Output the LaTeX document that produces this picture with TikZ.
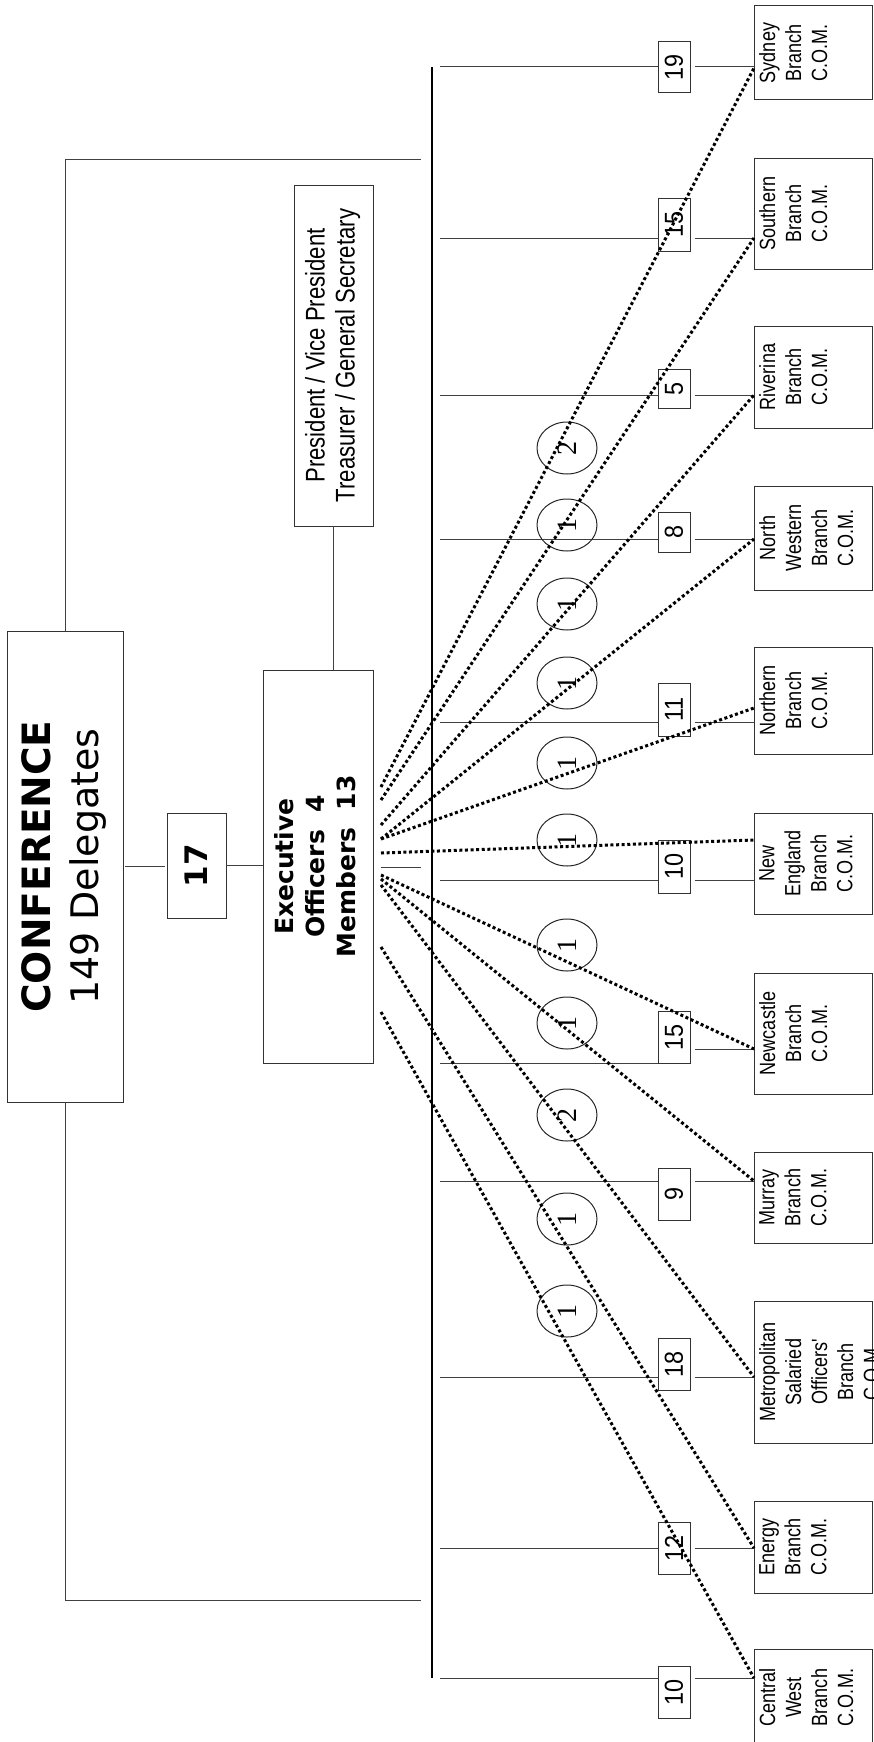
\documentclass[tikz,border=0pt]{standalone}
\usepackage{fontspec}
\usepackage{graphicx}
\setmainfont{Liberation Sans}
\newfontfamily\narf[FakeStretch=0.82]{Liberation Sans}
\newfontfamily\numf[FakeStretch=0.9]{Liberation Sans}
\newfontfamily\dvf{DejaVu Sans}
\newfontfamily\serf{Liberation Serif}
\usetikzlibrary{calc,shapes.geometric}
\tikzset{
  box/.style={draw=black!80, line width=1pt, inner sep=0pt, outer sep=0pt, anchor=north west},
  ln/.style={draw=black!75, line width=1pt},
  dotl/.style={draw=black, line width=3pt, dash pattern=on 3pt off 2.6pt},
  brtxt/.style={rotate=90, anchor=north, align=center, inner sep=0pt, font=\narf\fontsize{22}{26}\selectfont},
  numbox/.style={draw=black!80, line width=1pt, inner sep=0pt, minimum width=32pt, font=\numf\fontsize{26}{30}\selectfont},
  circ/.style={draw=black!85, line width=1pt, ellipse, minimum width=60pt, minimum height=52pt, inner sep=0pt, font=\serf\fontsize{28}{30}\selectfont},
}
\begin{document}
\begin{tikzpicture}[x=1pt,y=-1pt]
\path[use as bounding box, clip] (0,0) rectangle (873,1742);

% ---- main boxes ----
\node[box, minimum width=116pt, minimum height=471pt] (conf) at (7,631)
  {\rotatebox{90}{\dvf\fontsize{38}{48}\selectfont\begin{tabular}{@{}c@{}}{\fontsize{39}{48}\selectfont\bfseries CONFERENCE}\\149 Delegates\end{tabular}}};
\node[box, minimum width=59pt, minimum height=105pt] (n17) at (167,813)
  {\rotatebox{90}{\dvf\bfseries\fontsize{31}{36}\selectfont 17}};
\node[box, minimum width=110pt, minimum height=393pt] (exec) at (263,670)
  {\rotatebox{90}{\dvf\bfseries\fontsize{25}{31}\selectfont\begin{tabular}{@{}c@{}}Executive\\Officers\ \ 4\\Members\ \ 13\end{tabular}}};
\node[box, minimum width=79pt, minimum height=341pt] (pres) at (294,185)
  {\rotatebox{90}{\narf\fontsize{27}{30}\selectfont\begin{tabular}{@{}c@{}}President / Vice President\\Treasurer / General Secretary\end{tabular}}};

% ---- structure lines ----
\coordinate (brt) at (421,159);
\coordinate (brb) at (421,1600);
\coordinate (bust) at (432,67);
\coordinate (busb) at (432,1678);
\coordinate (exs) at (421,867);
\draw[ln] (conf.north) |- (brt);
\draw[ln] (conf.south) |- (brb);
\draw[draw=black, line width=1.3pt] (bust) -- (busb);
\draw[ln, shorten <=2pt, shorten >=2pt] (conf.east) -- (conf.east -| n17.west);
\draw[ln] (n17.east) -- (n17.east -| exec.west);
\draw[ln] (pres.south) -- (pres.south |- exec.north);
\draw[ln, shorten <=8pt] (exec.east |- exs) -- (exs);

% ---- branch boxes ----
\node[box, minimum width=118pt, minimum height=94pt]  (syd) at (754,6) {};
\node[box, minimum width=118pt, minimum height=111pt] (sou) at (754,158) {};
\node[box, minimum width=118pt, minimum height=102pt] (riv) at (754,326) {};
\node[box, minimum width=118pt, minimum height=104pt] (nw)  at (754,486) {};
\node[box, minimum width=118pt, minimum height=107pt] (nor) at (754,647) {};
\node[box, minimum width=118pt, minimum height=101pt] (ne)  at (754,813) {};
\node[box, minimum width=118pt, minimum height=121pt] (new) at (754,973) {};
\node[box, minimum width=118pt, minimum height=91pt]  (mur) at (754,1152) {};
\node[box, minimum width=118pt, minimum height=142pt] (met) at (754,1301) {};
\node[box, minimum width=118pt, minimum height=92pt]  (ene) at (754,1501) {};
\node[box, minimum width=118pt, minimum height=97pt]  (cw)  at (754,1649) {};

\node[brtxt] (syd-t) at ($(syd.west)+(5,0)$) {Sydney\\Branch\\C.O.M.};
\node[brtxt] (sou-t) at ($(sou.west)+(5,0)$) {Southern\\Branch\\C.O.M.};
\node[brtxt] (riv-t) at ($(riv.west)+(5,0)$) {Riverina\\Branch\\C.O.M.};
\node[brtxt] (nw-t)  at ($(nw.west)+(5,0)$)  {North\\Western\\Branch\\C.O.M.};
\node[brtxt] (nor-t) at ($(nor.west)+(5,0)$) {Northern\\Branch\\C.O.M.};
\node[brtxt] (ne-t)  at ($(ne.west)+(5,0)$)  {New\\England\\Branch\\C.O.M.};
\node[brtxt] (new-t) at ($(new.west)+(5,0)$) {Newcastle\\Branch\\C.O.M.};
\node[brtxt] (mur-t) at ($(mur.west)+(5,0)$) {Murray\\Branch\\C.O.M.};
\node[brtxt] (met-t) at ($(met.west)+(5,0)$) {Metropolitan\\Salaried\\Officers'\\Branch\\C.O.M.};
\node[brtxt] (ene-t) at ($(ene.west)+(5,0)$) {Energy\\Branch\\C.O.M.};
\node[brtxt] (cw-t)  at ($(cw.west)+(5,0)$)  {Central\\West\\Branch\\C.O.M.};

% ---- number boxes ----
\node[numbox, minimum height=51pt] (syd-n) at (674,67.5)   {\rotatebox{90}{19}};
\node[numbox, minimum height=53pt] (sou-n) at (674,224.5)  {\rotatebox{90}{15}};
\node[numbox, minimum height=39pt] (riv-n) at (674,388.5)  {\rotatebox{90}{5}};
\node[numbox, minimum height=40pt] (nw-n)  at (674,532)    {\rotatebox{90}{8}};
\node[numbox, minimum height=53pt] (nor-n) at (674,709.5)  {\rotatebox{90}{11}};
\node[numbox, minimum height=53pt] (ne-n)  at (674,866.5)  {\rotatebox{90}{10}};
\node[numbox, minimum height=52pt] (new-n) at (674,1037)   {\rotatebox{90}{15}};
\node[numbox, minimum height=52pt] (mur-n) at (674,1194)   {\rotatebox{90}{9}};
\node[numbox, minimum height=52pt] (met-n) at (674,1364)   {\rotatebox{90}{18}};
\node[numbox, minimum height=52pt] (ene-n) at (674,1548)   {\rotatebox{90}{12}};
\node[numbox, minimum height=52pt] (cw-n)  at (674,1692)   {\rotatebox{90}{10}};

% ---- branch lines ----
\foreach \b/\y in {syd/67, sou/238, riv/395, nw/539, nor/722, ne/880, mur/1181, met/1377, ene/1548, cw/1678}{
  \coordinate (\b-l) at (440,\y);
  \draw[ln] (\b-l) -- (\b-l -| \b-n.west);
  \draw[ln, shorten <=4pt] (\b-l -| \b-n.east) -- (\b-l -| \b.west);
}
\coordinate (new-l) at (440,1063);
\coordinate (new-r) at (691,1049);
\draw[ln] (new-l) -- (new-l -| new-n.west);
\draw[ln, shorten <=4pt] (new-r) -- (new-r -| new.west);

% ---- delegate circles ----
\node[circ] (c1)  at (567,448)  {\rotatebox{90}{2}};
\node[circ] (c2)  at (567,525)  {\rotatebox{90}{1}};
\node[circ] (c3)  at (567,604)  {\rotatebox{90}{1}};
\node[circ] (c4)  at (567,683)  {\rotatebox{90}{1}};
\node[circ] (c5)  at (567,763)  {\rotatebox{90}{1}};
\node[circ] (c6)  at (567,840)  {\rotatebox{90}{1}};
\node[circ] (c7)  at (567,945)  {\rotatebox{90}{1}};
\node[circ] (c8)  at (567,1023) {\rotatebox{90}{1}};
\node[circ] (c9)  at (567,1115) {\rotatebox{90}{2}};
\node[circ] (c10) at (567,1219) {\rotatebox{90}{1}};
\node[circ] (c11) at (567,1311) {\rotatebox{90}{1}};

% ---- dotted delegate lines ----
\foreach \b/\sy/\ey in {syd/787/68, sou/800/238, riv/825/395, nw/839/539, nor/839/708, ne/853/840, new/875/1049, mur/879/1181, met/885/1377, ene/947/1548, cw/1012/1678}{
  \coordinate (\b-d) at (381,\sy);
  \coordinate (\b-e) at (754,\ey);
  \draw[dotl] (\b-d) -- (\b-e -| \b.west);
}
\end{tikzpicture}
\end{document}
